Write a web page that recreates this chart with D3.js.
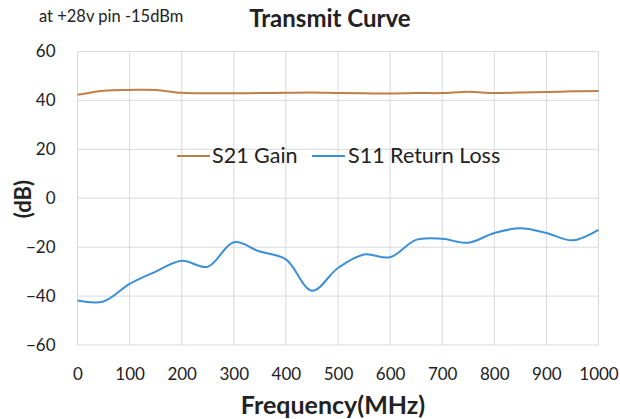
<!DOCTYPE html>
<html><head><meta charset="utf-8">
<script src="https://cdn.jsdelivr.net/npm/d3@7"></script>
<style>body{margin:0;background:#fff}svg{display:block}text{font-family:Lato,"Open Sans",sans-serif;fill:#222}</style>
</head><body><svg id="c" width="620" height="419"></svg>
<script>
const freqs = [0,50,100,150,200,250,300,350,400,450,500,550,600,650,700,750,800,850,900,950,1000];
const s21Gain = [42.3,44.0,44.3,44.3,43.1,42.9,42.9,43.0,43.1,43.2,43.0,42.9,42.8,43.0,43.0,43.5,43.0,43.2,43.4,43.7,43.9];
const s11Return = [-41.8,-42.2,-35.0,-30.0,-25.6,-28.0,-18.0,-21.8,-25.0,-37.8,-28.5,-23.0,-24.1,-17.0,-16.6,-18.2,-14.2,-12.3,-14.2,-17.2,-12.9];
const xTicks = [0,100,200,300,400,500,600,700,800,900,1000];
const yTicks = [-60,-40,-20,0,20,40,60];
const seriesNames = ["S21 Gain","S11 Return Loss"];
const colors = ["#C47E45","#3A8FD6"];

const svg = d3.select("#c");
const x = d3.scaleLinear().domain([0,1000]).range([77.5,598.5]);
const y = d3.scaleLinear().domain([-60,60]).range([345,51.5]);

// gridlines
svg.append("g").selectAll("line").data(xTicks).join("line")
  .attr("x1",d=>x(d)).attr("x2",d=>x(d)).attr("y1",y(60)).attr("y2",y(-60))
  .attr("stroke","#d9d9d9").attr("stroke-width",1);
svg.append("g").selectAll("line").data(yTicks).join("line")
  .attr("x1",x(0)).attr("x2",x(1000)).attr("y1",d=>y(d)).attr("y2",d=>y(d))
  .attr("stroke","#d9d9d9").attr("stroke-width",1);

// axes labels
const xa = svg.append("g").attr("transform",`translate(0,${y(-60)+20})`)
  .call(d3.axisBottom(x).tickValues(xTicks).tickSize(0).tickFormat(d3.format("d")));
xa.select(".domain").remove();
xa.selectAll("text").attr("font-size",17).attr("fill","#333").attr("dy","0.71em");
const ya = svg.append("g").attr("transform",`translate(${x(0)-19},0)`)
  .call(d3.axisLeft(y).tickValues(yTicks).tickSize(0).tickFormat(d3.format("d")));
ya.select(".domain").remove();
ya.selectAll("text").attr("font-size",17).attr("fill","#333");

// lines
const line = d3.line().x((d,i)=>x(freqs[i])).y(d=>y(d)).curve(d3.curveCatmullRom.alpha(0.5));
[s21Gain,s11Return].forEach((s,i)=>{
  svg.append("path").datum(s).attr("d",line).attr("fill","none")
    .attr("stroke",colors[i]).attr("stroke-width",2);
});

// legend
const leg = [{x0:177,tx:212},{x0:312,tx:348}];
seriesNames.forEach((n,i)=>{
  svg.append("line").attr("x1",leg[i].x0).attr("x2",leg[i].x0+33).attr("y1",156).attr("y2",156)
    .attr("stroke",colors[i]).attr("stroke-width",2);
  svg.append("text").attr("x",leg[i].tx).attr("y",163).attr("font-size",21.5).attr("fill","#333").text(n);
});

// titles
svg.append("text").attr("x",330).attr("y",27).attr("text-anchor","middle").attr("font-size",24).attr("font-weight","bold").text("Transmit Curve");
svg.append("text").attr("x",39).attr("y",22).attr("font-size",16.5).text("at +28v pin -15dBm");
svg.append("text").attr("x",333).attr("y",414).attr("text-anchor","middle").attr("font-size",25).attr("font-weight","bold").text("Frequency(MHz)");
svg.append("text").attr("transform",`translate(31,199) rotate(-90)`).attr("text-anchor","middle").attr("font-size",22).attr("font-weight","bold").text("(dB)");
</script></body></html>
